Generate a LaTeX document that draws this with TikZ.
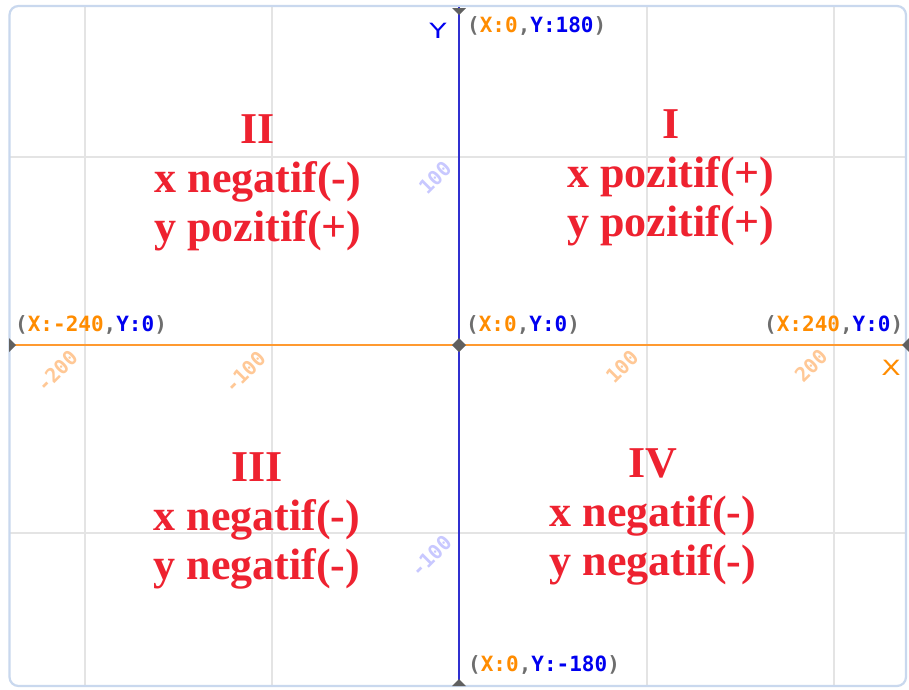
\documentclass[tikz,border=0pt]{standalone}
\usepackage{fontspec}
\setmainfont{Liberation Serif}
\newfontfamily\monofnt{DejaVu Sans Mono}
\newfontfamily\sansfnt{DejaVu Sans}
\definecolor{gridc}{HTML}{E4E4E4}
\definecolor{framec}{HTML}{C9D8EE}
\definecolor{xaxisc}{HTML}{FF9A30}
\definecolor{yaxisc}{HTML}{3030D0}
\definecolor{xor}{HTML}{FF8C00}
\definecolor{yblue}{HTML}{0000F0}
\definecolor{pgray}{HTML}{6E6E6E}
\definecolor{markc}{HTML}{606060}
\definecolor{tickx}{HTML}{FFC896}
\definecolor{ticky}{HTML}{C8C8FF}
\definecolor{quadred}{HTML}{EE2230}
\tikzset{
  gridline/.style={gridc, line width=1.6pt},
  coordlbl/.style={anchor=west, inner sep=0pt, font=\monofnt\bfseries\fontsize{21}{22}\selectfont},
  ticklbl/.style={rotate=45, inner sep=0pt, font=\monofnt\bfseries\fontsize{20}{21}\selectfont},
  quadtxt/.style={align=center, inner sep=0pt, text=quadred, font=\bfseries\fontsize{44}{49}\selectfont},
  axislbl/.style={inner sep=0pt, font=\sansfnt\fontsize{21}{22}\selectfont, xscale=1.35},
  marker/.style={fill=markc, draw=none}
}
\newcommand{\xo}[1]{\textcolor{xor}{#1}}
\newcommand{\yb}[1]{\textcolor{yblue}{#1}}
\newcommand{\pg}[1]{\textcolor{pgray}{#1}}
\begin{document}
\begin{tikzpicture}[x=1pt,y=-1pt]
\useasboundingbox (0,0) rectangle (909,689);
\fill[white] (0,0) rectangle (909,689);
% grid
\draw[gridline] (85,7) -- (85,685);
\draw[gridline] (272,7) -- (272,685);
\draw[gridline] (647,7) -- (647,685);
\draw[gridline] (834,7) -- (834,685);
\draw[gridline] (10,157) -- (905,157);
\draw[gridline] (10,533) -- (905,533);
% frame
\draw[framec, line width=2.2pt, rounded corners=9pt] (9.5,6) rectangle (906,686);
% coordinates
\coordinate (O) at (459,345);
\coordinate (xl) at (9,345);
\coordinate (xr) at (906,345);
\coordinate (yt) at (459,7);
\coordinate (yb) at (459,686);
% axes
\draw[xaxisc, line width=2pt] (xl) -- (xr);
\draw[yaxisc, line width=2pt] (yt) -- (yb);
% markers
\fill[marker] (9,338) -- (16,345) -- (9,352) -- cycle;
\fill[marker] (909,338) -- (902,345) -- (909,352) -- cycle;
\fill[marker] (452,8) -- (466,8) -- (459,15) -- cycle;
\fill[marker] (452,686) -- (466,686) -- (459,679) -- cycle;
\fill[marker] (459,338) -- (466,345) -- (459,352) -- (452,345) -- cycle;
% axis letters
\node[axislbl, text=yblue] (ylab) at (438,31) {Y};
\node[axislbl, text=xor] (xlab) at (891,368) {X};
% coordinate labels
\node[coordlbl] (ctop) at (467,26) {\pg{(}\xo{X:0}\pg{,}\yb{Y:180}\pg{)}};
\node[coordlbl] (cleft) at (15,325) {\pg{(}\xo{X:-240}\pg{,}\yb{Y:0}\pg{)}};
\node[coordlbl] (cright) at (764,325) {\pg{(}\xo{X:240}\pg{,}\yb{Y:0}\pg{)}};
\node[coordlbl] (corig) at (466,325) {\pg{(}\xo{X:0}\pg{,}\yb{Y:0}\pg{)}};
\node[coordlbl] (cbot) at (468,665) {\pg{(}\xo{X:0}\pg{,}\yb{Y:-180}\pg{)}};
% tick labels
\node[ticklbl, text=tickx] (tm200) at (57,371) {-200};
\node[ticklbl, text=tickx] (tm100) at (245,372) {-100};
\node[ticklbl, text=tickx] (tp100) at (622,367) {100};
\node[ticklbl, text=tickx] (tp200) at (811,366) {200};
\node[ticklbl, text=ticky] (ty100) at (435,178) {100};
\node[ticklbl, text=ticky] (tym100) at (431,556) {-100};
% quadrant texts
\node[quadtxt] (q2) at (258,183) {II\\x negatif(-)\\y pozitif(+)};
\node[quadtxt] (q1) at (671,178) {I\\x pozitif(+)\\y pozitif(+)};
\node[quadtxt] (q3) at (257,521) {III\\x negatif(-)\\y negatif(-)};
\node[quadtxt] (q4) at (653,517) {IV\\x negatif(-)\\y negatif(-)};
\end{tikzpicture}
\end{document}
